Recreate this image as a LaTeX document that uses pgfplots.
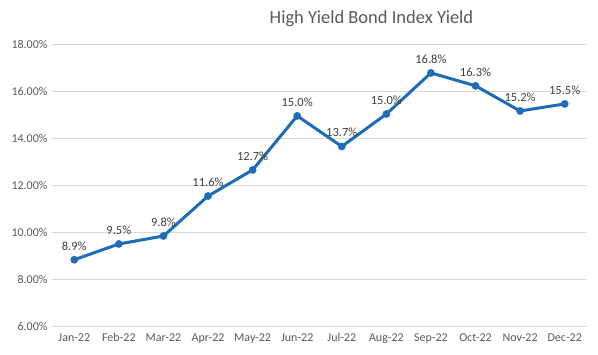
\documentclass[border=0pt]{standalone}
\usepackage{pgfplots}
\pgfplotsset{compat=1.18}
\usepackage{fontspec}
\setmainfont{Carlito}
\definecolor{lineblue}{RGB}{30,108,182}
\definecolor{gridgray}{RGB}{217,217,217}
\definecolor{txtgray}{RGB}{89,89,89}
\definecolor{lblgray}{RGB}{64,64,64}
\begin{document}
\begin{tikzpicture}
\begin{axis}[
  name=ax,
  scale only axis,
  width=535pt, height=282pt,
  xmin=-0.5, xmax=11.5,
  ymin=6, ymax=18,
  xtick=data,
  xticklabels={Jan-22,Feb-22,Mar-22,Apr-22,May-22,Jun-22,Jul-22,Aug-22,Sep-22,Oct-22,Nov-22,Dec-22},
  ytick={6,8,10,12,14,16,18},
  yticklabels={6.00\%,8.00\%,10.00\%,12.00\%,14.00\%,16.00\%,18.00\%},
  ymajorgrids,
  grid style={gridgray, line width=1pt},
  axis line style={draw=none},
  axis x line*=bottom,
  axis y line*=left,
  major tick length=0pt,
  tick label style={font=\fontsize{12}{14}\selectfont, text=txtgray},
  xticklabel style={yshift=-4pt},
  yticklabel style={xshift=-1pt},
  clip=false,
  nodes near coords={\pgfplotspointmeta\%},
  point meta=explicit symbolic,
  nodes near coords style={font=\fontsize{12.5}{14}\selectfont, text=lblgray, anchor=south, yshift=6pt},
]
\draw[gridgray, line width=1pt] (axis cs:-0.5,6) -- (axis cs:11.5,6);
\addplot[lineblue, line width=3pt, mark=*, mark size=3.6pt, mark options={fill=lineblue, draw=lineblue, line width=0.5pt}] table[meta=label] {
x y label
0 8.82 8.9
1 9.49 9.5
2 9.83 9.8
3 11.53 11.6
4 12.64 12.7
5 14.94 15.0
6 13.64 13.7
7 15.02 15.0
8 16.77 16.8
9 16.22 16.3
10 15.15 15.2
11 15.45 15.5
};
\end{axis}
\node[font=\fontsize{18.5}{22}\selectfont, text=txtgray] at ([xshift=52pt,yshift=25pt]ax.north) {High Yield Bond Index Yield};
\path[use as bounding box] ([xshift=-52pt,yshift=-28pt]ax.south west) rectangle ([xshift=11pt,yshift=44pt]ax.north east);
\end{tikzpicture}
\end{document}
